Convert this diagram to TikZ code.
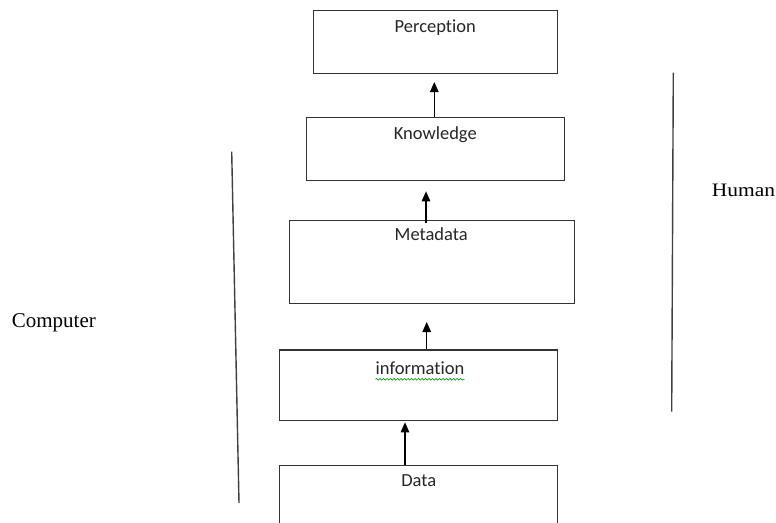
\documentclass[tikz,border=0pt]{standalone}
\usepackage{fontspec}
\setmainfont{Liberation Serif}
\newfontfamily\calib[Ligatures={NoCommon}]{Carlito}
\usetikzlibrary{arrows.meta,decorations.pathmorphing}
\begin{document}
\begin{tikzpicture}[x=1pt,y=-1pt,
  box/.style={draw=black!80, line width=1.3pt, anchor=north west, inner sep=0pt},
  lbl/.style={anchor=base, font=\calib\fontsize{18.5}{20}\selectfont, text=black!85, inner sep=0pt},
  arr/.style={draw=black, line width=1.3pt, -{Triangle[length=10pt,width=8.5pt]}},
  side/.style={draw=black!75, line width=1.4pt},
  sidelbl/.style={anchor=base west, inner sep=0pt, text=black}]
\useasboundingbox (0,0) rectangle (776,522);
\clip (0,0) rectangle (776,522);
% boxes
\node[box, minimum width=244pt, minimum height=62.7pt] (perc) at (312.7,10) {};
\node[box, minimum width=258pt, minimum height=63.3pt] (know) at (306,116.7) {};
\node[box, minimum width=285pt, minimum height=82.7pt] (meta) at (289,220) {};
\node[box, minimum width=277.7pt, minimum height=70.7pt] (info) at (279,349.3) {};
\node[box, minimum width=277.7pt, minimum height=75pt] (data) at (279,465) {};
% labels
\node[lbl] (percl) at (435.3,32.3) {Perception};
\node[lbl] (knowl) at (435.3,139.3) {Knowledge};
\node[lbl] (metal) at (431.2,240.7) {Metadata};
\node[lbl] (infol) at (420,374) {information};
\node[lbl] (datal) at (418.8,486) {Data};
\draw[green!60!black, line width=0.6pt, decorate, decoration={snake, amplitude=0.9pt, segment length=3.5pt}]
  ([yshift=-5.3pt]infol.base west) -- ([yshift=-5.3pt]infol.base east);
% arrow positions
\coordinate (x1) at (434.3,0);
\coordinate (x2) at (426,0);
\coordinate (x3) at (426.7,0);
\coordinate (x4) at (405,0);
\draw[arr, shorten >=8pt] (know.north -| x1) -- (perc.south -| x1);
\draw[arr, shorten <=-3pt, shorten >=10pt] (meta.north -| x2) -- (know.south -| x2);
\draw[arr, shorten >=18pt] (info.north -| x3) -- (meta.south -| x3);
\draw[arr, shorten >=1pt] (data.north -| x4) -- (info.south -| x4);
% side lines
\coordinate (l1) at (231.7,151.7);
\coordinate (l2) at (239,503);
\coordinate (r1) at (673.3,72.7);
\coordinate (r2) at (671.7,411.7);
\draw[side] (l1) -- (l2);
\draw[side] (r1) -- (r2);
\node[sidelbl, font=\fontsize{21}{24}\selectfont] (comp) at (11.7,327.3) {Computer};
\node[sidelbl] (hum) at (711.7,196.7) {\scalebox{1.13}[1]{\fontsize{19}{22}\selectfont Human}};
\end{tikzpicture}
\end{document}
